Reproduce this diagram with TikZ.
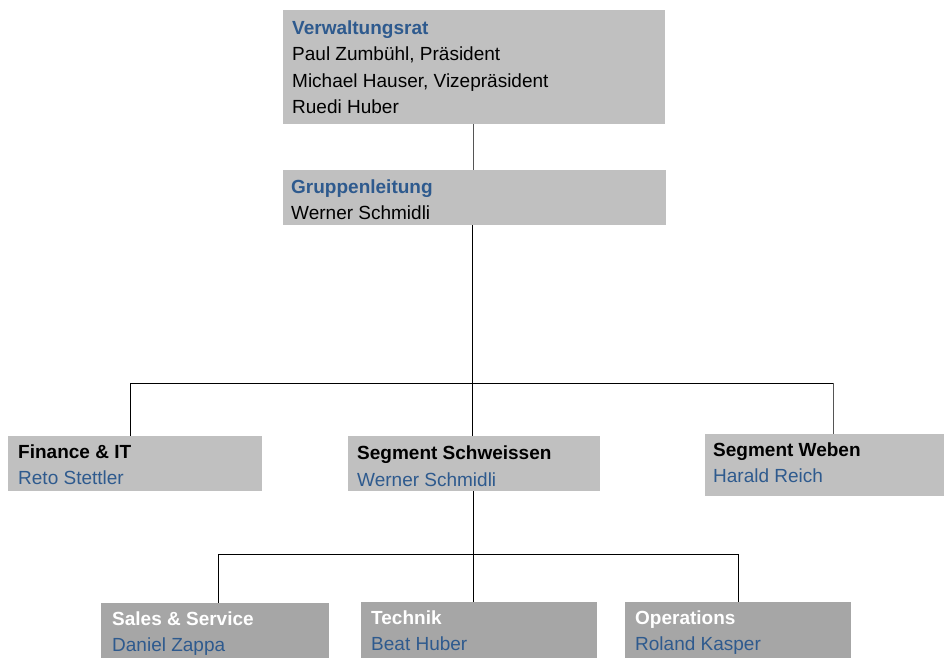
\documentclass[tikz,border=0pt]{standalone}
\usepackage{fontspec}
\setmainfont{Liberation Sans}
\definecolor{boxlight}{HTML}{C0C0C0}
\definecolor{boxdark}{HTML}{A6A6A6}
\definecolor{titleblue}{HTML}{2E5A8E}
\definecolor{linegray}{HTML}{555555}
\begin{document}
\begin{tikzpicture}[x=1pt,y=-1pt,
  boxl/.style={fill=boxlight,draw=none,inner sep=0pt,anchor=north west},
  boxd/.style={fill=boxdark,draw=none,inner sep=0pt,anchor=north west},
  txt/.style={anchor=base west,inner sep=0pt,align=left,font=\fontsize{19}{26.5}\selectfont},
  conn/.style={draw=black,line width=0.9pt},
  conng/.style={draw=linegray,line width=1pt}]
\useasboundingbox (0,0) rectangle (944,657);
\clip (0,0) rectangle (944,657);
% boxes
\node[boxl,minimum width=382,minimum height=114] (vr) at (283,10) {};
\node[boxl,minimum width=383,minimum height=55] (gl) at (283,170) {};
\node[boxl,minimum width=254,minimum height=55] (fin) at (8,436) {};
\node[boxl,minimum width=252,minimum height=55] (ss) at (348,436) {};
\node[boxl,minimum width=240,minimum height=62] (sw) at (705,434) {};
\node[boxd,minimum width=228,minimum height=62] (sal) at (101,603) {};
\node[boxd,minimum width=236,minimum height=62] (tec) at (361,602) {};
\node[boxd,minimum width=226,minimum height=62] (ops) at (625,602) {};
% texts (anchor = baseline of the last line)
\node[txt] (vrt) at (292,113.5) {\textbf{\color{titleblue}Verwaltungsrat}\\Paul Zumbühl, Präsident\\Michael Hauser, Vizepräsident\\Ruedi Huber};
\node[txt] (glt) at (291,219.5) {\textbf{\color{titleblue}Gruppenleitung}\\Werner Schmidli};
\node[txt] (fint) at (18,484.5) {\textbf{Finance \& IT}\\\color{titleblue}Reto Stettler};
\node[txt] (sst) at (357,486) {\textbf{Segment Schweissen}\\\color{titleblue}Werner Schmidli};
\node[txt] (swt) at (713,482.5) {\textbf{Segment Weben}\\\color{titleblue}Harald Reich};
\node[txt] (salt) at (112,651.5) {\textbf{\color{white}Sales \& Service}\\\color{titleblue}Daniel Zappa};
\node[txt] (tect) at (371,650.5) {\textbf{\color{white}Technik}\\\color{titleblue}Beat Huber};
\node[txt] (opst) at (635,650.5) {\textbf{\color{white}Operations}\\\color{titleblue}Roland Kasper};
% connectors
\coordinate (c0) at (473,124);
\draw[conng] (c0) -- (c0 |- gl.north);
\coordinate (b0) at (472,383);
\coordinate (b1) at (130,383);
\coordinate (b3) at (833,383);
\draw[conn] (b0 |- gl.south) -- (b0);
\draw[conn] (b1) -- (b3);
\draw[conn] (b1) -- (b1 |- fin.north);
\draw[conn] (b0) -- (b0 |- ss.north);
\draw[conng] (b3) -- (b3 |- sw.north);
\coordinate (e0) at (473,554);
\coordinate (e1) at (218,554);
\coordinate (e3) at (738,554);
\draw[conn] (e0 |- ss.south) -- (e0);
\draw[conn] (e1) -- (e3);
\draw[conn] (e1) -- (e1 |- sal.north);
\draw[conn] (e0) -- (e0 |- tec.north);
\draw[conn] (e3) -- (e3 |- ops.north);
\end{tikzpicture}
\end{document}
